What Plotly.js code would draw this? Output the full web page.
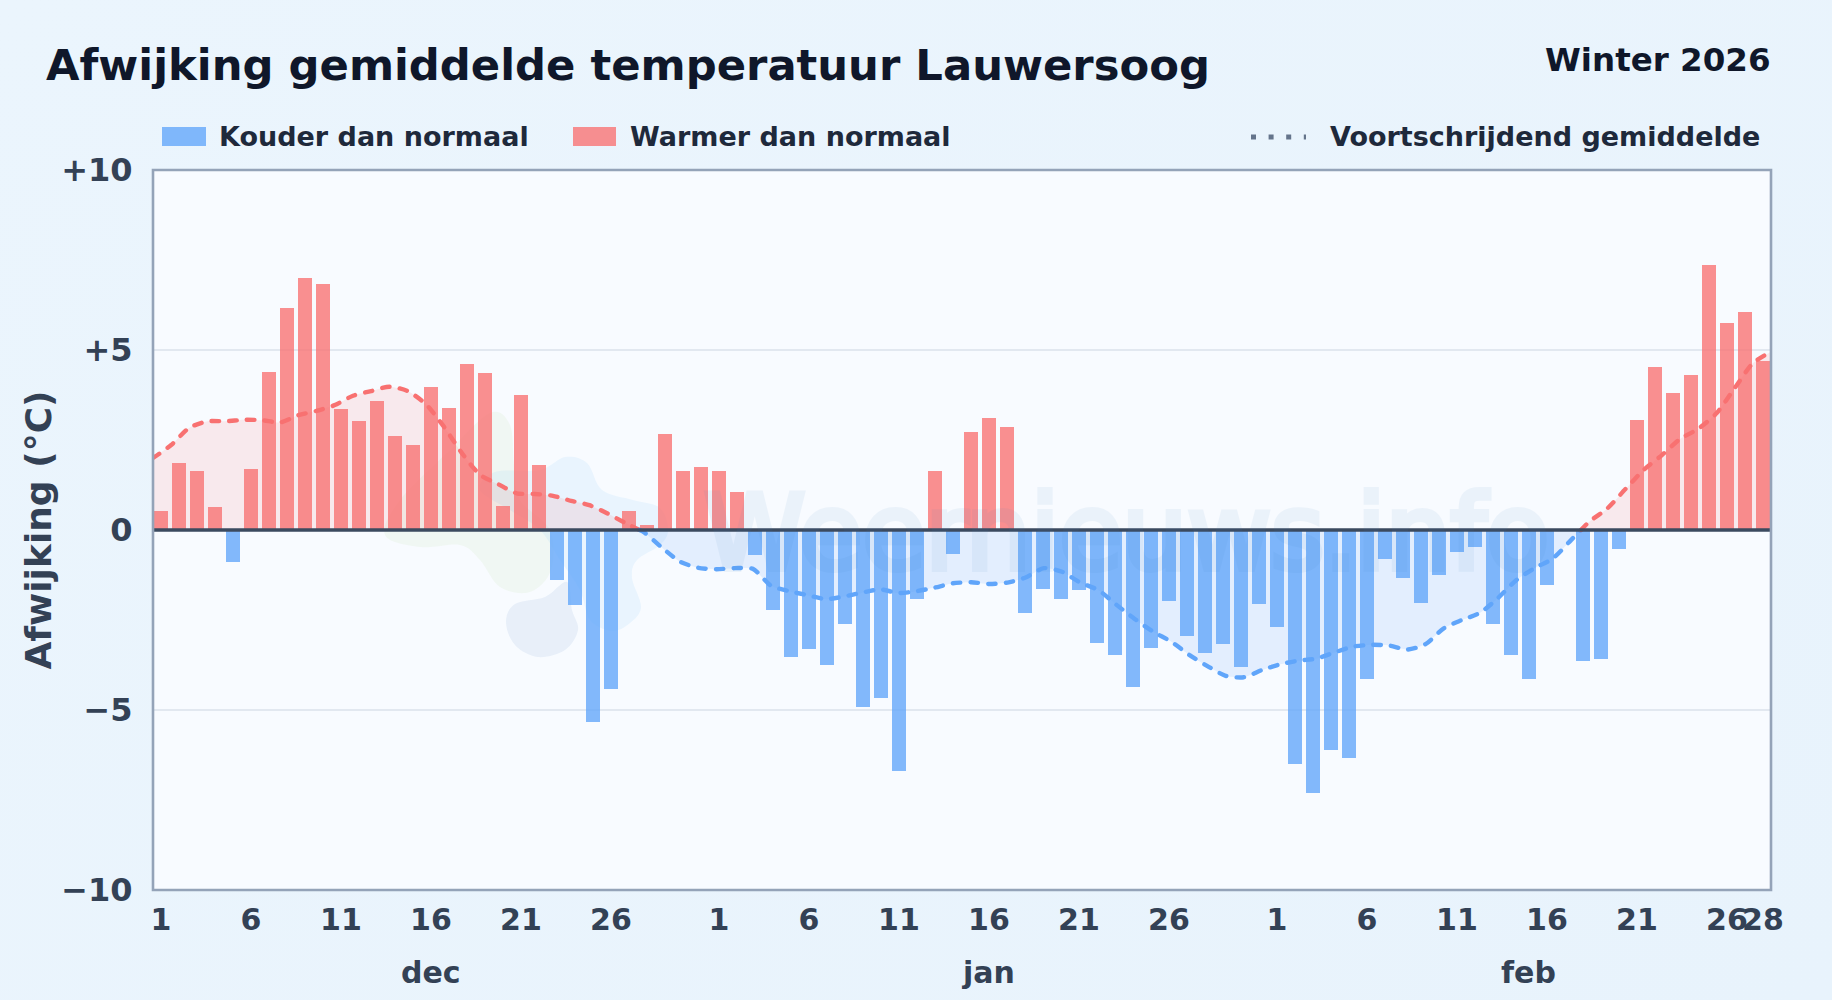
<!DOCTYPE html>
<html><head><meta charset="utf-8">
<script src="https://cdn.plot.ly/plotly-3.0.1.min.js"></script>
<style>
html,body{margin:0;padding:0;width:1832px;height:1000px;overflow:hidden;background:linear-gradient(135deg,#ebf5fd 0%,#e8f3fc 100%);}
.scatterlayer path.js-line{stroke-linecap:round;}
.annotation[data-index="0"] text{stroke:#3b82c4;stroke-width:6px;}
.g-ytitle{transform:translateX(1.5px);}
</style></head><body><div id="chart"></div>
<script>
const deviation=[0.53,1.86,1.64,0.64,-0.9,1.69,4.39,6.17,7.0,6.83,3.36,3.03,3.58,2.61,2.36,3.97,3.39,4.61,4.36,0.67,3.75,1.81,-1.39,-2.08,-5.33,-4.42,0.53,0.14,2.67,1.64,1.75,1.64,1.06,-0.69,-2.22,-3.53,-3.31,-3.75,-2.61,-4.92,-4.67,-6.69,-1.92,1.64,-0.67,2.72,3.11,2.86,-2.31,-1.64,-1.92,-1.67,-3.14,-3.47,-4.36,-3.28,-1.97,-2.94,-3.42,-3.17,-3.81,-2.06,-2.69,-6.5,-7.31,-6.11,-6.33,-4.14,-0.81,-1.33,-2.03,-1.25,-0.61,-0.47,-2.61,-3.47,-4.14,-1.53,0,-3.64,-3.58,-0.53,3.06,4.53,3.81,4.31,7.36,5.75,6.06,4.69];
const movingAverage=[2.0,2.36,2.84,3.02,3.02,3.06,3.05,2.99,3.19,3.31,3.47,3.73,3.86,3.98,3.86,3.5,2.87,2.13,1.53,1.27,1.02,1.0,0.95,0.81,0.69,0.46,0.19,-0.06,-0.49,-0.88,-1.05,-1.09,-1.06,-1.08,-1.55,-1.7,-1.81,-1.92,-1.85,-1.74,-1.65,-1.75,-1.7,-1.6,-1.48,-1.45,-1.5,-1.46,-1.32,-1.06,-1.16,-1.46,-1.67,-2.08,-2.47,-2.82,-3.1,-3.47,-3.78,-4.05,-4.09,-3.89,-3.73,-3.63,-3.57,-3.4,-3.24,-3.19,-3.21,-3.32,-3.17,-2.73,-2.5,-2.3,-1.88,-1.39,-1.06,-0.79,-0.28,0.23,0.6,1.14,1.67,2.08,2.53,2.81,3.24,3.94,4.63,4.95];
const dayTickIndex=[0,5,10,15,20,25,31,36,41,46,51,56,62,67,72,77,82,87,89];
const dayTickLabels=['1','6','11','16','21','26','1','6','11','16','21','26','1','6','11','16','21','26','28'];
const monthIndex=[15,46,76];
const monthLabels=['dec','jan','feb'];
const yTickValues=[10,5,0,-5,-10];
const yTickLabels=['+10','+5','0','−5','−10'];
const legendLabels=['Kouder dan normaal','Warmer dan normaal','Voortschrijdend gemiddelde'];

const BLUE='#60a5fa',RED='#f87171',FONT='"DejaVu Sans", sans-serif';
const px=p=>(p-153)/1618, py=p=>(890-p)/720;
const idx=deviation.map((_,i)=>i);
const pick=f=>idx.filter(i=>f(deviation[i]));
function bars(name,color,f){const k=pick(f);return {type:'bar',name,x:k,y:k.map(i=>deviation[i]),width:0.78,marker:{color,opacity:0.78,line:{width:0}},showlegend:false,hoverinfo:'x+y'};}
// split the running mean where it crosses zero
const segs=[];let cur={x:[0],y:[movingAverage[0]],pos:movingAverage[0]>=0};
for(let i=1;i<movingAverage.length;i++){const a=movingAverage[i-1],b=movingAverage[i];
 if((a>=0)!==(b>=0)){const t=a/(a-b);cur.x.push(i-1+t);cur.y.push(0);segs.push(cur);cur={x:[i-1+t],y:[0],pos:b>=0};}
 cur.x.push(i);cur.y.push(b);}
segs.push(cur);
const lines=segs.map(s=>({type:'scatter',mode:'lines',xaxis:'x2',x:s.x,y:s.y,showlegend:false,hoverinfo:'skip',
 fill:'tozeroy',fillcolor:s.pos?'rgba(248,113,113,0.13)':'rgba(96,165,250,0.14)',
 line:{color:s.pos?RED:BLUE,width:4.4,dash:'7.5px,10.2px',shape:'spline',smoothing:0.7}}));

function blob(pts,fill){ // closed Catmull-Rom outline of the faint logo, page pixels
 const P=pts.map(p=>[px(p[0]),py(p[1])]),n=P.length;let d=`M${P[0][0]},${P[0][1]}`;
 for(let i=0;i<n;i++){const a=P[(i-1+n)%n],b=P[i],c=P[(i+1)%n],e=P[(i+2)%n];
  d+=`C${b[0]+(c[0]-a[0])/6},${b[1]+(c[1]-a[1])/6} ${c[0]-(e[0]-b[0])/6},${c[1]-(e[1]-b[1])/6} ${c[0]},${c[1]}`;}
 return {type:'path',xref:'paper',yref:'paper',path:d+'Z',fillcolor:fill,line:{width:0},layer:'below'};}
const logoGreen=[[490,413],[510,425],[514,465],[520,500],[550,530],[551,570],[530,592],[500,587],[480,560],[460,545],[420,547],[385,535],[400,500],[450,450]];
const logoBlue=[[565,457],[587,463],[602,490],[633,500],[660,508],[668,530],[660,545],[637,560],[632,578],[641,607],[630,623],[612,631],[590,620],[580,590],[560,560],[540,530],[510,510],[480,490],[495,472],[540,470]];
const logoDark=[[567,582],[572,610],[578,630],[565,650],[538,657],[515,645],[506,622],[515,604],[545,597]];

const shapes=[
 blob(logoGreen,'rgba(190,225,160,0.12)'),
 blob(logoBlue,'rgba(147,205,250,0.15)'),
 blob(logoDark,'rgba(120,160,205,0.13)'),
 {type:'rect',xref:'paper',yref:'paper',x0:px(162),x1:px(206),y0:py(127),y1:py(146),fillcolor:BLUE,opacity:0.78,line:{width:0}},
 {type:'rect',xref:'paper',yref:'paper',x0:px(573),x1:px(616),y0:py(127),y1:py(146),fillcolor:RED,opacity:0.78,line:{width:0}},
 {type:'line',xref:'paper',yref:'paper',x0:px(1251),x1:px(1306),y0:py(137),y1:py(137),line:{color:'#64748b',width:5,dash:'5px,12.6px'}},
 {type:'line',xref:'paper',yref:'y',x0:0,x1:1,y0:0,y1:0,line:{color:'#3b4a5f',width:3.5},layer:'above'},
 {type:'rect',xref:'paper',yref:'paper',x0:0,x1:1,y0:0,y1:1,line:{color:'#94a3b8',width:2.6},layer:'above'}
];
const note=(text,x,y,size,color,anchor)=>({text,xref:'paper',yref:'paper',x:px(x),y:py(y),xanchor:anchor||'left',yanchor:'middle',showarrow:false,font:{family:FONT,size,color,weight:700}});
const annotations=[
 {text:'Weernieuws.info',xref:'paper',yref:'paper',x:px(702),y:py(533),xanchor:'left',yanchor:'middle',showarrow:false,opacity:0.065,font:{family:FONT,size:102.5,color:'#3b82c4',weight:400}},
 note('Winter 2026',1773,60,32.5,'#0f172a','right'),
 note(legendLabels[0],217,137,27,'#1e293b'),
 note(legendLabels[1],628,137,27,'#1e293b'),
 note(legendLabels[2],1328,137,27,'#1e293b'),
 ...monthLabels.map((t,i)=>({text:t,xref:'x',yref:'paper',x:monthIndex[i],y:py(972),xanchor:'center',yanchor:'middle',showarrow:false,font:{family:FONT,size:30,color:'#334155',weight:700}}))
];
const layout={width:1832,height:1000,margin:{l:153,r:61,t:170,b:110,pad:0},
 paper_bgcolor:'rgba(0,0,0,0)',plot_bgcolor:'#f8fbff',barmode:'overlay',bargap:0,showlegend:false,
 title:{text:'Afwijking gemiddelde temperatuur Lauwersoog',x:46/1832,xref:'container',xanchor:'left',y:1-64.5/1000,yref:'container',yanchor:'middle',font:{family:FONT,size:43.3,color:'#0f172a',weight:700}},
 xaxis:{range:[-0.44,89.45],tickmode:'array',tickvals:dayTickIndex,ticktext:dayTickLabels,tickangle:0,showgrid:false,zeroline:false,showline:false,ticks:'outside',ticklen:3,tickcolor:'rgba(0,0,0,0)',tickfont:{family:FONT,size:30,color:'#334155',weight:700}},
 xaxis2:{range:[0,89],overlaying:'x',anchor:'y',visible:false},
 yaxis:{range:[-10,10],tickmode:'array',tickvals:yTickValues,ticktext:yTickLabels,showgrid:true,gridcolor:'#e2e8f0',gridwidth:1.6,zeroline:false,showline:false,ticks:'outside',ticklen:13,tickcolor:'rgba(0,0,0,0)',tickfont:{family:FONT,size:32,color:'#334155',weight:700},
  title:{text:'Afwijking (°C)',standoff:0,font:{family:FONT,size:36,color:'#334155',weight:700}}},
 shapes,annotations};
Plotly.newPlot('chart',[bars('Kouder dan normaal',BLUE,v=>v<0),bars('Warmer dan normaal',RED,v=>v>0),...lines],layout,{displayModeBar:false,staticPlot:true});
</script></body></html>
